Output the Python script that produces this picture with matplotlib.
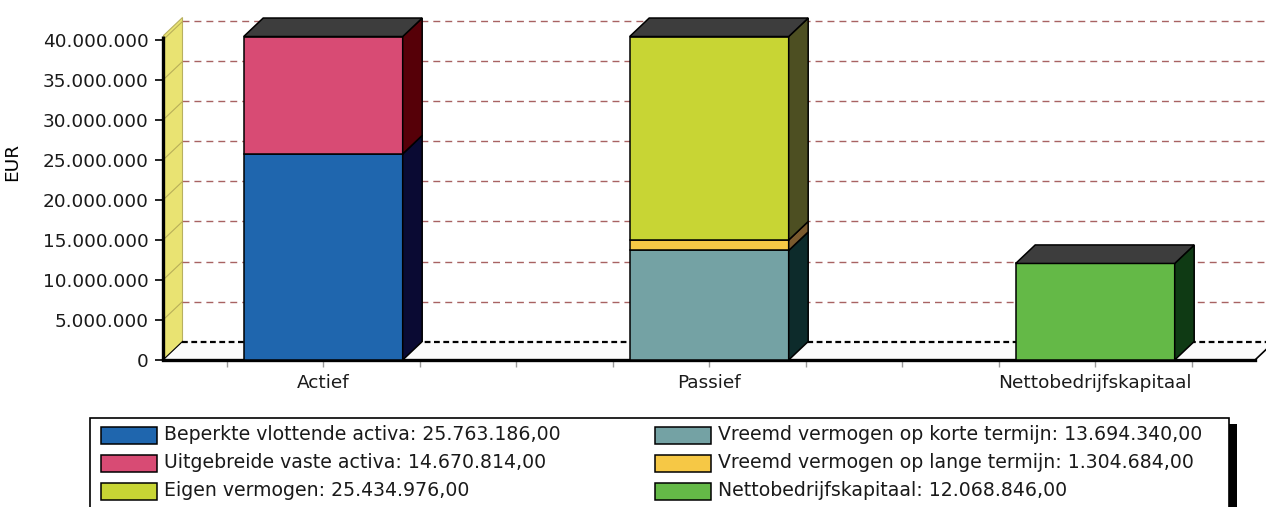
import matplotlib
matplotlib.use("Agg")
import matplotlib.pyplot as plt
from matplotlib.patches import Rectangle, Polygon

# ---- data -------------------------------------------------------------
categories = ["Actief", "Passief", "Nettobedrijfskapitaal"]

series_names = [
    "Beperkte vlottende activa",
    "Uitgebreide vaste activa",
    "Eigen vermogen",
    "Vreemd vermogen op korte termijn",
    "Vreemd vermogen op lange termijn",
    "Nettobedrijfskapitaal",
]
series_values = [25763186.00, 14670814.00, 25434976.00,
                 13694340.00, 1304684.00, 12068846.00]
# which category each series is stacked on (bottom to top order)
series_category = [0, 0, 1, 1, 1, 2]
stack_order = [0, 1, 3, 4, 2, 5]

yticks = [0, 5e6, 10e6, 15e6, 20e6, 25e6, 30e6, 35e6, 40e6]

# ---- styling ----------------------------------------------------------
front_colors = ["#1f66ae", "#d84b74", "#c8d534", "#74a2a4", "#f6c845", "#64b947"]
side_colors = ["#0a0a33", "#560008", "#4d4f22", "#0d2b2b", "#7a5a2e", "#0f3a14"]
top_color = "#3d3d3d"
grid_color = "#a86262"

W, H, DPI = 1266, 507, 100
fig = plt.figure(figsize=(W / DPI, H / DPI), dpi=DPI)
fig.patch.set_facecolor("white")
plt.rcParams["font.family"] = ["DejaVu Sans"]
FS = 13.3
LFS = 13.6

# plot area in pixels
px_left, px_zero, px_top = 163, 360, 0
unit_px = 386.0          # pixels per category step
y_px_per = 8.0 / 1e6     # pixels per EUR
x_left = -0.415
x_right = x_left + (W - px_left) / unit_px
y_top = (px_zero - px_top) / y_px_per

ax = fig.add_axes([px_left / W, (H - px_zero) / H, (W - px_left) / W, (px_zero - px_top) / H])
ax.set_xlim(x_left, x_right)
ax.set_ylim(0, y_top)
ax.set_facecolor("none")
for s in ax.spines.values():
    s.set_visible(False)

# depth of the 3D effect in data units
DX = 19.5 / unit_px
DY = 18.5 / y_px_per
bar_w = 159.0 / unit_px
wall_top = 40.5e6
floor_right = x_left + (1255 - px_left) / unit_px

# side wall
ax.add_patch(Polygon([(x_left, 0), (x_left, wall_top), (x_left + DX, wall_top + DY),
                      (x_left + DX, DY)], closed=True, facecolor="#e9e372",
                     edgecolor="#b8b060", lw=0.8, zorder=1))
# floor
ax.add_patch(Polygon([(x_left, 0), (floor_right, 0), (floor_right + DX, DY),
                      (x_left + DX, DY)], closed=True, facecolor="#fbfbfb",
                     edgecolor="none", zorder=1))

# back-wall grid and side-wall grid
for yv in yticks[1:]:
    ax.plot([x_left + DX, x_right], [yv + DY, yv + DY], color=grid_color, lw=1.0,
            dashes=(5, 3.6), zorder=1.5)
    ax.plot([x_left, x_left + DX], [yv, yv + DY], color="#b7ae58", lw=0.8, zorder=1.5)

# floor edges
ax.plot([x_left + DX, floor_right + DX], [DY, DY], color="black", lw=1.6,
        dashes=(2.6, 1.6), zorder=1.6)
ax.plot([x_left, floor_right], [0, 0], color="black", lw=2.4,
        solid_capstyle="projecting", zorder=1.7, clip_on=False)
ax.plot([floor_right, floor_right + DX], [0, DY], color="black", lw=1.2, zorder=1.7)
ax.plot([x_left, x_left], [0, wall_top], color="black", lw=2.4,
        solid_capstyle="butt", zorder=1.7, clip_on=False)
ax.plot([x_left, x_left + DX], [0, DY], color="black", lw=0.8, zorder=1.7)

# stacked 3D bars
bottoms = [0.0] * len(categories)
for i in stack_order:
    c = series_category[i]
    y0 = bottoms[c]
    y1 = y0 + series_values[i]
    xl, xr = c - bar_w / 2, c + bar_w / 2
    ax.add_patch(Rectangle((xl, y0), bar_w, series_values[i], facecolor=front_colors[i],
                           edgecolor="black", lw=1.1, zorder=3))
    ax.add_patch(Polygon([(xr, y0), (xr + DX, y0 + DY), (xr + DX, y1 + DY), (xr, y1)],
                         closed=True, facecolor=side_colors[i], edgecolor="black",
                         lw=1.1, zorder=3))
    bottoms[c] = y1
for c, top in enumerate(bottoms):
    xl, xr = c - bar_w / 2, c + bar_w / 2
    ax.add_patch(Polygon([(xl, top), (xr, top), (xr + DX, top + DY), (xl + DX, top + DY)],
                         closed=True, facecolor=top_color, edgecolor="black", lw=1.1,
                         zorder=3.5))


def nl(v, dec=0):
    s = f"{v:,.{dec}f}"
    return s.replace(",", "#").replace(".", ",").replace("#", ".")


# axes ticks
ax.set_yticks(yticks)
ax.set_yticklabels([nl(v) for v in yticks])
ax.tick_params(axis="y", direction="out", length=5.5, width=1.2, pad=5,
               labelsize=FS, colors="black", labelcolor="#1a1a1a")
ax.set_xticks(range(len(categories)))
ax.set_xticklabels(categories)
ax.set_xticks([-0.25 + 0.25 * k for k in range(11) if k % 4 != 1], minor=True)
ax.tick_params(axis="x", which="both", direction="out", length=5, width=1,
               color="#9a9a9a", pad=5, labelsize=FS, labelcolor="#1a1a1a")
ax.set_ylabel("EUR", fontsize=FS)
ax.yaxis.set_label_coords(-(px_left - 21) / (W - px_left), 0.55)

# legend panel
lax = fig.add_axes([0, 0, 1, 1])
lax.set_xlim(0, W)
lax.set_ylim(H, 0)
lax.axis("off")
lax.add_patch(Rectangle((1229, 424), 8, 100, facecolor="black", edgecolor="none"))
lax.add_patch(Rectangle((90, 418), 1139, 100, facecolor="white", edgecolor="black", lw=1.2))
col_x = [101, 655]
row_y = [435, 463, 491]
legend_order = [0, 1, 2, 3, 4, 5]
for k, i in enumerate(legend_order):
    cx = col_x[k // 3]
    cy = row_y[k % 3]
    lax.add_patch(Rectangle((cx, cy - 8.5), 56, 17, facecolor=front_colors[i],
                            edgecolor="black", lw=1.1))
    lax.text(cx + 63, cy, f"{series_names[i]}: {nl(series_values[i], 2)}",
             fontsize=LFS, va="center", ha="left", color="#1a1a1a")

fig.savefig("out.png", dpi=DPI)
